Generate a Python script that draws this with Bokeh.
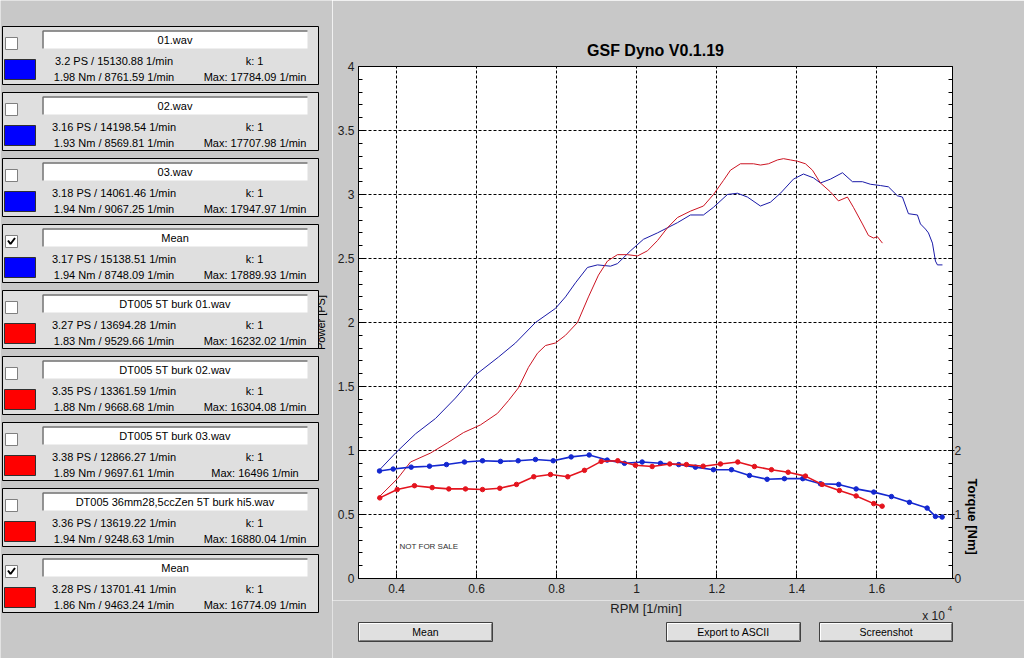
import math
from bokeh.plotting import figure
from bokeh.models import (Range1d, LinearAxis, FixedTicker, SingleIntervalTicker,
                          CustomJSTickFormatter, Title)
from bokeh.layouts import row, column
from bokeh.core.properties import value
from bokeh.embed import file_html
from bokeh.resources import INLINE

FONT = "Liberation Sans"
BG = "#c8c8c8"

# ---------------- chart data ----------------
blue_power_rpm = [3550, 3974, 4474, 4973, 5473, 5973, 6547, 6972, 7471, 7971, 8221, 8471,
                  8770, 9020, 9345, 9520, 9845, 10169, 10519, 11019, 11343, 11668, 11918,
                  12268, 12517, 12767, 13092, 13342, 13592, 13916, 14166, 14416, 14591,
                  14841, 15141, 15390, 15640, 15840, 16090, 16289, 16514, 16639, 16789,
                  17014, 17089, 17214, 17289, 17389, 17464, 17514, 17639]
blue_power_ps = [0.84, 0.98, 1.13, 1.25, 1.41, 1.59, 1.73, 1.84, 2.00, 2.11, 2.20, 2.31,
                 2.43, 2.45, 2.44, 2.46, 2.56, 2.65, 2.70, 2.78, 2.84, 2.84, 2.90,
                 3.00, 3.01, 2.98, 2.91, 2.94, 3.01, 3.12, 3.16, 3.13, 3.09,
                 3.12, 3.17, 3.10, 3.10, 3.08, 3.07, 3.06, 2.99, 2.98, 2.85,
                 2.84, 2.77, 2.73, 2.70, 2.62, 2.48, 2.45, 2.45]

red_power_rpm = [3525, 4024, 4349, 4849, 5273, 5673, 6098, 6522, 6797, 7047, 7297, 7521,
                 7721, 7971, 8221, 8521, 8795, 9045, 9270, 9520, 9770, 10019, 10269,
                 10519, 10769, 11019, 11343, 11668, 11918, 12168, 12343, 12592, 12917,
                 13092, 13292, 13517, 13667, 13842, 14016, 14216, 14391, 14591, 14841,
                 15040, 15265, 15415, 15640, 15790, 15915, 16015, 16140]
red_power_ps = [0.625, 0.78, 0.91, 0.98, 1.06, 1.14, 1.20, 1.29, 1.39, 1.49, 1.65, 1.76,
                1.82, 1.84, 1.90, 2.00, 2.20, 2.37, 2.48, 2.53, 2.53, 2.52, 2.56,
                2.64, 2.74, 2.82, 2.87, 2.91, 3.00, 3.11, 3.19, 3.24, 3.24,
                3.23, 3.24, 3.27, 3.28, 3.27, 3.26, 3.24, 3.19, 3.09, 3.02,
                2.95, 2.98, 2.90, 2.77, 2.68, 2.66, 2.67, 2.62]

blue_torque_rpm = [3575, 3917, 4366, 4824, 5248, 5698, 6148, 6597, 7039, 7471, 7914, 8363,
                   8813, 9263, 9695, 10137, 10594, 11051, 11468, 11918, 12368, 12817,
                   13259, 13691, 14149, 14591, 15048, 15483, 15922, 16364, 16814, 17256,
                   17463, 17631]
blue_torque_nm = [1.68, 1.71, 1.74, 1.755, 1.78, 1.82, 1.84, 1.83, 1.84, 1.86, 1.84, 1.90,
                  1.93, 1.85, 1.80, 1.82, 1.80, 1.78, 1.74, 1.70, 1.70, 1.61,
                  1.55, 1.56, 1.56, 1.48, 1.47, 1.40, 1.35, 1.28, 1.19, 1.10,
                  0.97, 0.96]

red_torque_rpm = [3582, 4017, 4449, 4891, 5306, 5723, 6148, 6580, 6997, 7429, 7846, 8278,
                  8695, 9113, 9527, 9969, 10387, 10826, 11243, 11661, 12093, 12525,
                  12942, 13367, 13784, 14216, 14633, 15065, 15483, 15922, 16132]
red_torque_nm = [1.26, 1.39, 1.45, 1.42, 1.40, 1.40, 1.39, 1.41, 1.47, 1.59, 1.625, 1.59,
                 1.69, 1.83, 1.84, 1.77, 1.75, 1.79, 1.78, 1.755, 1.79, 1.82,
                 1.75, 1.70, 1.66, 1.60, 1.47, 1.375, 1.29, 1.17, 1.13]

x_ticks = [4000, 6000, 8000, 10000, 12000, 14000, 16000]
torque_ticks = [0, 1, 2]

# ---------------- run list (left panel) ----------------
run_names = ["01.wav", "02.wav", "03.wav", "Mean", "DT005 5T burk 01.wav",
             "DT005 5T burk 02.wav", "DT005 5T burk 03.wav",
             "DT005 36mm28,5ccZen 5T burk hi5.wav", "Mean"]
run_colors = ["#0000ff"] * 4 + ["#ff0000"] * 5
run_checked = [False, False, False, True, False, False, False, False, True]
peak_power_ps = [3.2, 3.16, 3.18, 3.17, 3.27, 3.35, 3.38, 3.36, 3.28]
peak_power_rpm = [15130.88, 14198.54, 14061.46, 15138.51, 13694.28, 13361.59,
                  12866.27, 13619.22, 13701.41]
peak_torque_nm = [1.98, 1.93, 1.94, 1.94, 1.83, 1.88, 1.89, 1.94, 1.86]
peak_torque_rpm = [8761.59, 8569.81, 9067.25, 8748.09, 9529.66, 9668.68,
                   9697.61, 9248.63, 9463.24]
max_rpm = [17784.09, 17707.98, 17947.97, 17889.93, 16232.02, 16304.08,
           16496, 16880.04, 16774.09]
k_factor = [1, 1, 1, 1, 1, 1, 1, 1, 1]


def fmt(v):
    return f"{v:.2f}".rstrip("0").rstrip(".")


def txt(fig, x, y, t, size="11px", align="center", angle=0.0, style="normal", color="#000000"):
    fig.text(x=x, y=y, text=t, text_font=value(FONT), text_font_size=size,
             text_align=align, text_baseline="middle", angle=angle,
             text_font_style=style, text_color=color)


def blank(fig):
    fig.background_fill_color = BG
    fig.border_fill_color = BG
    fig.outline_line_color = None
    fig.grid.visible = False


# ---------------- A: left panel (page x 0..332) ----------------
A = figure(width=332, height=658, x_range=Range1d(0, 332), y_range=Range1d(658, 0),
           x_axis_type=None, y_axis_type=None, output_backend="svg",
           toolbar_location=None, min_border=0)
blank(A)

txt(A, [320.5], [322], ["Power [PS]"], angle=math.pi / 2)

n = len(run_names)
tops = [26 + 66 * i for i in range(n)]
A.quad(left=2, right=318, top=tops, bottom=[t + 58 for t in tops],
       fill_color="#dfdfdf", line_color="#000000", line_width=1)
# checkbox
A.quad(left=5, right=17, top=[t + 11 for t in tops], bottom=[t + 23 for t in tops],
       fill_color="#ffffff", line_color="#808080")
chk = [t for t, c in zip(tops, run_checked) if c]
A.multi_line(xs=[[7.5, 10, 14.5] for _ in chk],
             ys=[[t + 16, t + 19.5, t + 13.5] for t in chk],
             line_color="#000000", line_width=2)
# name field
A.quad(left=42, right=307, top=[t + 4 for t in tops], bottom=[t + 22 for t in tops],
       fill_color="#ffffff", line_color=None)
A.multi_line(xs=[[42.5, 42.5, 307] for _ in tops],
             ys=[[t + 22, t + 4.5, t + 4.5] for t in tops],
             line_color="#707070", line_width=1.5)
# colour swatch
A.quad(left=4, right=35, top=[t + 33 for t in tops], bottom=[t + 53 for t in tops],
       fill_color=run_colors, line_color="#303030")

txt(A, [174.5] * n, [t + 13.5 for t in tops], run_names)
txt(A, [113.5] * n, [t + 34 for t in tops],
    [f"{fmt(p)} PS / {fmt(r)} 1/min" for p, r in zip(peak_power_ps, peak_power_rpm)])
txt(A, [113.5] * n, [t + 50 for t in tops],
    [f"{fmt(m)} Nm / {fmt(r)} 1/min" for m, r in zip(peak_torque_nm, peak_torque_rpm)])
txt(A, [254] * n, [t + 34 for t in tops], [f"k: {k}" for k in k_factor])
txt(A, [254.5] * n, [t + 50 for t in tops], [f"Max: {fmt(m)} 1/min" for m in max_rpm])

# ---------------- B: the chart (page x 332..1024, y 0..600) ----------------
B = figure(width=692, height=600, x_range=Range1d(3050, 17890), y_range=Range1d(0, 4),
           output_backend="svg", toolbar_location=None,
           min_border_left=26, min_border_right=72, min_border_top=66, min_border_bottom=22,
           title="GSF Dyno V0.1.19")
B.background_fill_color = "#ffffff"
B.border_fill_color = BG
B.outline_line_color = "#000000"
B.title.text_font = FONT
B.title.text_font_size = "16px"
B.title.text_font_style = "bold"
B.title.align = "center"
B.title.text_color = "#000000"
B.title.standoff = 15

B.extra_y_ranges = {"torque": Range1d(0, 8)}

xa = B.xaxis[0]
xa.ticker = FixedTicker(ticks=x_ticks)
xa.formatter = CustomJSTickFormatter(code="return (tick/10000).toString();")
ya = B.yaxis[0]
ya.ticker = SingleIntervalTicker(interval=0.5, num_minor_ticks=5)
ya.formatter = CustomJSTickFormatter(code="return tick.toString();")

ra = LinearAxis(y_range_name="torque",
                ticker=FixedTicker(ticks=torque_ticks,
                                   minor_ticks=[round(0.2 * i, 1) for i in range(41)]),
                formatter=CustomJSTickFormatter(code="return tick.toString();"))
B.add_layout(ra, "right")

tq = Title(text="Torque [Nm]", align="left", offset=412, standoff=0,
           text_font=FONT, text_font_size="13px", text_font_style="bold",
           text_color="#000000")
B.add_layout(tq, "right")

for ax in (xa, ya, ra):
    ax.axis_line_color = "#000000"
    ax.major_tick_line_color = "#000000"
    ax.minor_tick_line_color = "#000000"
    ax.major_label_text_font = FONT
    ax.major_label_text_font_size = "12px"
    ax.major_label_text_color = "#202020"
xa.major_tick_in = 5
xa.major_tick_out = 0
xa.minor_tick_in = 0
xa.minor_tick_out = 0
xa.major_label_standoff = 5
ya.major_tick_in = 6
ya.major_tick_out = 0
ya.minor_tick_in = 4
ya.minor_tick_out = 0
ya.major_label_standoff = 4
ra.major_tick_in = 4
ra.major_tick_out = 2
ra.minor_tick_in = 4
ra.minor_tick_out = 0
ra.major_label_standoff = 0

for g in (B.xgrid[0], B.ygrid[0]):
    g.grid_line_color = "#000000"
    g.grid_line_dash = "3 2"
    g.grid_line_width = 1

B.line(blue_power_rpm, blue_power_ps, line_color="#1a1aa8", line_width=1)
B.line(red_power_rpm, red_power_ps, line_color="#cc1422", line_width=1)
B.line(blue_torque_rpm, blue_torque_nm, y_range_name="torque",
       line_color="#1428d0", line_width=1.6)
B.scatter(blue_torque_rpm, blue_torque_nm, y_range_name="torque", marker="circle",
          size=4.5, fill_color="#1428d0", line_color="#1428d0")
B.line(red_torque_rpm, red_torque_nm, y_range_name="torque",
       line_color="#e4141e", line_width=1.6)
B.scatter(red_torque_rpm, red_torque_nm, y_range_name="torque", marker="circle",
          size=4.5, fill_color="#e4141e", line_color="#e4141e")

B.text(x=[4075], y=[0.25], text=["NOT FOR SALE"], text_font=value(FONT),
       text_font_size="8px", text_align="left", text_baseline="middle",
       text_color="#303030")

# ---------------- C: x label, exponent and buttons (page x 332..1024, y 600..658) ------
C = figure(width=692, height=58, x_range=Range1d(332, 1024), y_range=Range1d(658, 600),
           x_axis_type=None, y_axis_type=None, output_backend="svg",
           toolbar_location=None, min_border=0)
blank(C)
txt(C, [645.5], [607.5], ["RPM [1/min]"], size="13px", color="#202020")
txt(C, [933], [615], ["x 10"], size="12px", color="#202020")
txt(C, [949.5], [608], ["4"], size="8px", color="#202020")

btn_labels = ["Mean", "Export to ASCII", "Screenshot"]
btn_left = [358, 666, 819]
btn_right = [492, 800, 952]
C.quad(left=btn_left, right=btn_right, top=622, bottom=641,
       fill_color="#e0e0e0", line_color="#404040", line_width=1)
C.multi_line(xs=[[l + 1, l + 1, r - 1] for l, r in zip(btn_left, btn_right)],
             ys=[[640, 623, 623] for _ in btn_left], line_color="#ffffff", line_width=1)
C.multi_line(xs=[[l + 1, r - 1, r - 1] for l, r in zip(btn_left, btn_right)],
             ys=[[640, 640, 623] for _ in btn_left], line_color="#808080", line_width=1)
txt(C, [(l + r) / 2 for l, r in zip(btn_left, btn_right)], [631.5] * 3, btn_labels,
    size="10.5px")

layout = row(A, column(B, row(C, spacing=0), spacing=0), spacing=0)

open("out.html", "w").write(file_html(layout, INLINE))
